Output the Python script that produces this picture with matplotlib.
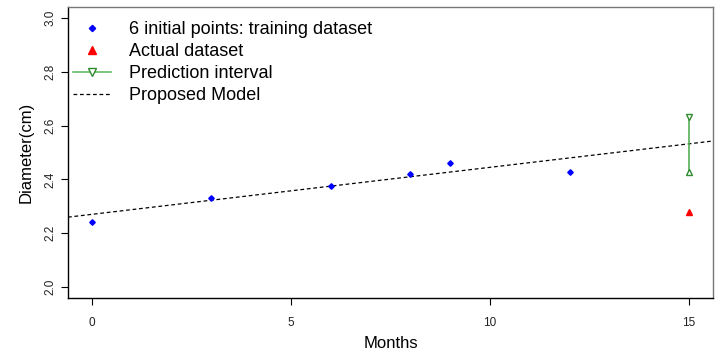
import matplotlib
matplotlib.use("Agg")
import matplotlib.pyplot as plt
from matplotlib.lines import Line2D

# training points (months, diameter)
months = [0, 3, 6, 8, 9, 12]
diameter = [2.242, 2.332, 2.375, 2.422, 2.462, 2.427]

# actual value at month 15
actual_month = [15]
actual_diam = [2.281]

# prediction interval at month 15
pi_month = 15
pi_low = 2.428
pi_high = 2.632

# proposed model: intercept + slope * months
intercept = 2.2705
slope = 0.01745

xticks = [0, 5, 10, 15]
yticks = [2.0, 2.2, 2.4, 2.6, 2.8, 3.0]

plt.rcParams['font.family'] = ['Liberation Sans', 'DejaVu Sans']

fig = plt.figure(figsize=(7.2, 3.52), dpi=100)
ax = fig.add_axes([68 / 720, 1 - 298 / 352, 645 / 720, 291 / 352])

xlim = (-0.6, 15.6)
ylim = (1.96, 3.04)

# model line across the whole plot
ax.plot(xlim, [intercept + slope * x for x in xlim], color='black',
        lw=0.9, linestyle=(0, (3, 2.2)), zorder=2)

ax.plot(months, diameter, linestyle='none', marker='D', markersize=2.8,
        color='blue', zorder=3)
ax.plot(actual_month, actual_diam, linestyle='none', marker='^',
        markersize=4.5, color='red', zorder=3)

ax.plot([pi_month, pi_month], [pi_low, pi_high], color='#55b055', lw=1.2, zorder=3)
ax.plot([pi_month], [pi_high], marker='v', markersize=5, mfc='white',
        mec='#2e8b2e', mew=1.0, linestyle='none', zorder=4)
ax.plot([pi_month], [pi_low], marker='^', markersize=5, mfc='white',
        mec='#2e8b2e', mew=1.0, linestyle='none', zorder=4)

ax.set_xlim(*xlim)
ax.set_ylim(*ylim)
ax.set_xticks(xticks)
ax.set_yticks(yticks)
ax.set_xticklabels([str(t) for t in xticks])
ax.set_yticklabels(['%.1f' % t for t in yticks], rotation=90, va='center')
ax.tick_params(axis='both', labelsize=8.5, length=5, width=0.8,
               direction='out', colors='black', labelcolor='#222222')
ax.tick_params(axis='x', pad=9)
ax.tick_params(axis='y', pad=3)

for side in ['left', 'bottom']:
    ax.spines[side].set_color('black')
    ax.spines[side].set_linewidth(1.0)
for side in ['top', 'right']:
    ax.spines[side].set_color('#777777')
    ax.spines[side].set_linewidth(1.0)

ax.set_xlabel('Months', fontsize=12, labelpad=5)
ax.set_ylabel('Diameter(cm)', fontsize=12, labelpad=8)

handles = [
    Line2D([], [], linestyle='none', marker='D', markersize=3.2, color='blue'),
    Line2D([], [], linestyle='none', marker='^', markersize=5.5, color='red'),
    Line2D([], [], color='#66bb66', lw=1.2, marker='v', markersize=6,
           mfc='white', mec='#2e8b2e', mew=1.0),
    Line2D([], [], color='black', lw=0.9, linestyle=(0, (3, 2.2))),
]
labels = ['6 initial points: training dataset', 'Actual dataset',
          'Prediction interval', 'Proposed Model']
ax.legend(handles, labels, loc='upper left', frameon=False, fontsize=13,
          handlelength=2.1, handletextpad=1.0, labelspacing=0.28,
          bbox_to_anchor=(-0.012, 0.995), borderaxespad=0.3)

fig.savefig('out.png', dpi=100)
